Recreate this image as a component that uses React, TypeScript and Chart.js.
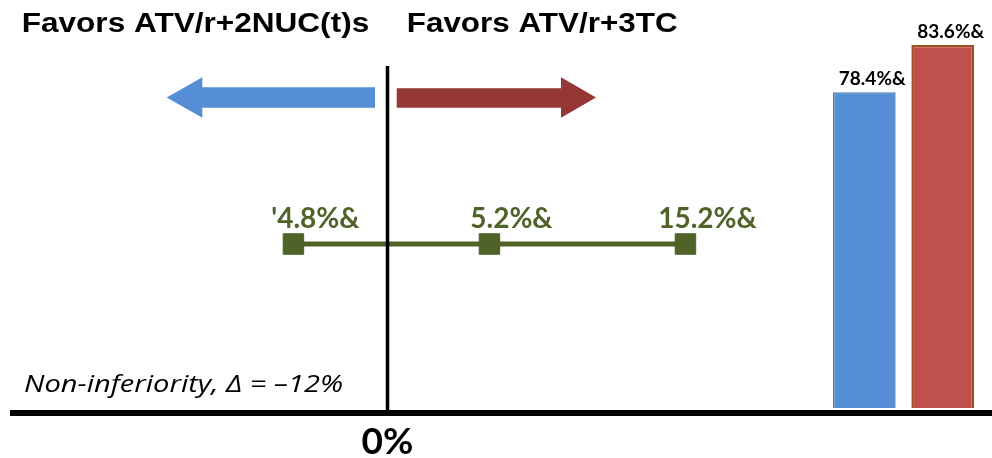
import React, { useEffect, useRef } from 'react';
import { Chart, registerables } from 'chart.js';

Chart.register(...registerables);

// ---- data ----
const forestValues = [-4.8, 5.2, 15.2];
const forestLabels = ["'4.8%&", '5.2%&', '15.2%&'];
const barCategories = ['ATV/r+2NUC(t)s', 'ATV/r+3TC'];
const barValues = [78.4, 83.6];
const barLabels = ['78.4%&', '83.6%&'];
const headerLeft = 'Favors ATV/r+2NUC(t)s';
const headerRight = 'Favors ATV/r+3TC';
const nonInfText = 'Non-inferiority, Δ = –12%';
const zeroLabel = '0%';

const GREEN = '#4F6228';
const BLUE = '#558ED5';
const RED_BAR = '#C0504D';
const RED_ARROW = '#953735';

const W = 992;
const H = 458;

// draw text horizontally stretched to a target width
function fitText(ctx: CanvasRenderingContext2D, text: string, x: number, y: number, width: number, align: 'left' | 'center') {
  const m = ctx.measureText(text).width;
  const s = width / m;
  ctx.save();
  ctx.textAlign = 'left';
  const left = align === 'center' ? x - width / 2 : x;
  ctx.translate(left, y);
  ctx.scale(s, 1);
  ctx.fillText(text, 0, 0);
  ctx.restore();
}

const mainPlugin = {
  id: 'mainDecor',
  beforeDatasetsDraw(chart: any) {
    const ctx = chart.ctx;
    ctx.save();
    ctx.fillStyle = BLUE;
    ctx.beginPath();
    ctx.moveTo(375, 87.3);
    ctx.lineTo(202.3, 87.3);
    ctx.lineTo(202.3, 77.3);
    ctx.lineTo(166.7, 97.5);
    ctx.lineTo(202.3, 117.7);
    ctx.lineTo(202.3, 107.7);
    ctx.lineTo(375, 107.7);
    ctx.closePath();
    ctx.fill();
    ctx.fillStyle = RED_ARROW;
    ctx.beginPath();
    ctx.moveTo(396.7, 88.3);
    ctx.lineTo(561, 88.3);
    ctx.lineTo(561, 77.3);
    ctx.lineTo(596, 97.5);
    ctx.lineTo(561, 117.7);
    ctx.lineTo(561, 107.7);
    ctx.lineTo(396.7, 107.7);
    ctx.closePath();
    ctx.fill();
    ctx.restore();
  },
  afterDatasetsDraw(chart: any) {
    const ctx = chart.ctx;
    const xs = chart.scales.x;
    const ys = chart.scales.y;
    const x0 = xs.getPixelForValue(0);
    ctx.save();
    ctx.strokeStyle = '#000';
    ctx.lineWidth = 3.5;
    ctx.beginPath();
    ctx.moveTo(x0, 66);
    ctx.lineTo(x0, 411);
    ctx.stroke();
    ctx.lineWidth = 6;
    ctx.beginPath();
    ctx.moveTo(10, 413);
    ctx.lineTo(W, 413);
    ctx.stroke();

    // forest labels
    ctx.fillStyle = GREEN;
    ctx.font = 'bold 28px Lato';
    ctx.textBaseline = 'alphabetic';
    const yRow = ys.getPixelForValue(0);
    forestValues.forEach((v, i) => {
      ctx.textAlign = 'center';
      ctx.fillText(forestLabels[i], xs.getPixelForValue(v) + 22, yRow - 16);
    });

    // headers
    ctx.fillStyle = '#000';
    ctx.font = 'bold 28px "Liberation Sans"';
    fitText(ctx, headerLeft, 21.7, 31.7, 347.5, 'left');
    fitText(ctx, headerRight, 406.7, 31.7, 271, 'left');

    // non-inferiority
    ctx.font = 'italic 23px "Open Sans"';
    fitText(ctx, nonInfText, 24, 391.5, 319, 'left');

    // 0%
    ctx.font = 'bold 37px Lato';
    ctx.textAlign = 'center';
    ctx.fillText(zeroLabel, x0, 454);
    ctx.restore();
  },
};

const barPlugin = {
  id: 'barLabels',
  afterDatasetsDraw(chart: any) {
    const ctx = chart.ctx;
    const meta = chart.getDatasetMeta(0);
    ctx.save();
    ctx.fillStyle = '#000';
    ctx.font = 'bold 19px Lato';
    ctx.textAlign = 'center';
    ctx.textBaseline = 'alphabetic';
    meta.data.forEach((el: any, i: number) => {
      ctx.fillText(barLabels[i], el.x + 8, el.y - 7);
    });
    ctx.restore();
  },
};

export default function App() {
  const mainRef = useRef<HTMLCanvasElement>(null);
  const barRef = useRef<HTMLCanvasElement>(null);

  useEffect(() => {
    document.body.style.margin = '0';
    const main = new Chart(mainRef.current!, {
      type: 'line',
      data: {
        datasets: [
          {
            data: forestValues.map((v) => ({ x: v, y: 0 })),
            borderColor: GREEN,
            backgroundColor: GREEN,
            borderWidth: 5,
            pointStyle: 'rect',
            pointRadius: 14.5,
            pointBorderWidth: 1,
            pointBorderColor: GREEN,
            pointBackgroundColor: GREEN,
          },
        ],
      },
      options: {
        responsive: false,
        animation: false,
        layout: { padding: 0, autoPadding: false },
        plugins: { legend: { display: false }, tooltip: { enabled: false } },
        scales: {
          x: { type: 'linear', min: -19.77, max: 30.84, display: false },
          y: { type: 'linear', min: -0.877, max: 1, display: false },
        },
      },
      plugins: [mainPlugin],
    });

    const bars = new Chart(barRef.current!, {
      type: 'bar',
      data: {
        labels: barCategories,
        datasets: [
          {
            data: barValues,
            backgroundColor: [BLUE, RED_BAR],
            borderColor: ['#4A7EBB', '#A0501E'],
            borderWidth: [1.5, 2.5],
            barPercentage: 1,
            categoryPercentage: 0.8,
          },
        ],
      },
      options: {
        responsive: false,
        animation: false,
        layout: { padding: { left: 0, right: 10, top: 0, bottom: 0 }, autoPadding: false },
        plugins: { legend: { display: false }, tooltip: { enabled: false } },
        scales: {
          x: { display: false },
          y: { display: false, min: 43.69, max: 88.55 },
        },
      },
      plugins: [barPlugin],
    });

    return () => {
      main.destroy();
      bars.destroy();
    };
  }, []);

  return (
    <div style={{ position: 'relative', width: W, height: H, background: '#fff', overflow: 'hidden' }}>
      <canvas ref={mainRef} width={W} height={H} style={{ position: 'absolute', left: 0, top: 0, display: 'block' }} />
      <canvas ref={barRef} width={167} height={408} style={{ position: 'absolute', left: 825, top: 0, display: 'block' }} />
    </div>
  );
}
